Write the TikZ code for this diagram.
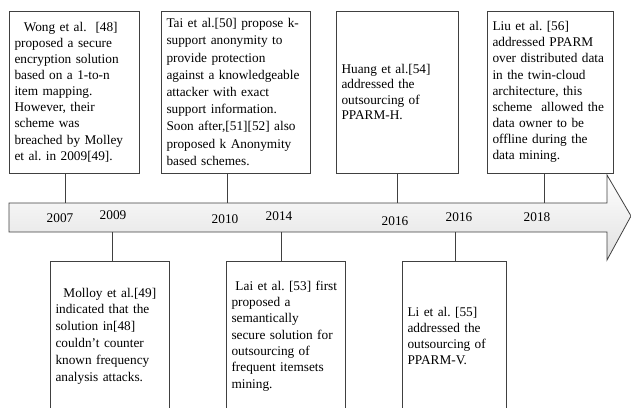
\documentclass[tikz,border=0pt]{standalone}
\usepackage{fontspec}
\setmainfont{Liberation Serif}
\frenchspacing
\begin{document}
\begin{tikzpicture}[x=1pt,y=-1pt,
  event/.style={draw=black!75, line width=0.9pt, fill=white, align=left,
    inner xsep=5.5pt, inner ysep=0pt, font=\fontsize{13.3}{16.1}\selectfont},
  year/.style={font=\fontsize{13.3}{16}\selectfont},
  link/.style={draw=black!75, line width=0.9pt}]
  \clip (0,0) rectangle (631,407);

  % timeline arrow
  \draw[draw=black!75, line width=0.8pt, top color=white, bottom color=black!12]
    (9,203) -- (607,203) -- (607,175) -- (631,216) -- (607,260) -- (607,232) -- (9,232) -- cycle;

  \node[year] (y1) at (60,218) {2007};
  \node[year] (y2) at (113,215) {2009};
  \node[year] (y3) at (225,219) {2010};
  \node[year] (y4) at (279,216) {2014};
  \node[year] (y5) at (395,221) {2016};
  \node[year] (y6) at (459,217) {2016};
  \node[year] (y7) at (537,217) {2018};

  % boxes above
  \node[event, text width=119pt, minimum height=162pt] (wong) at (74,92)
    {\hspace*{0.7em}Wong et al.\ \ [48]\\ proposed a secure\\ encryption solution\\ based on a 1-to-n\\ item mapping.\\ However, their\\ scheme was\\ breached by Molley\\ et al. in 2009[49].};
  \node[event, text width=138pt, minimum height=162pt, font=\fontsize{13.3}{17.2}\selectfont] (tai) at (235.5,92)
    {Tai et al.[50] propose k-\\ support anonymity to\\ provide protection\\ against a knowledgeable\\ attacker with exact\\ support information.\\ Soon after,[51][52] also\\ proposed k Anonymity\\ based schemes.};
  \node[event, text width=111pt, minimum height=162pt, font=\fontsize{13.3}{15.6}\selectfont] (huang) at (397,92)
    {Huang et al.[54]\\ addressed the\\ outsourcing of\\ PPARM-H.};
  \node[event, text width=115pt, minimum height=162pt] (liu) at (550,92)
    {Liu et al. [56]\\ addressed PPARM\\ over distributed data\\ in the twin-cloud\\ architecture, this\\ scheme\ \ allowed the\\ data owner to be\\ offline during the\\ data mining.};

  % boxes below
  \node[event, text width=108pt, minimum height=150pt, font=\fontsize{13.3}{16.8}\selectfont] (molloy) at (109.5,336)
    {\hspace*{0.6em}Molloy et al.[49]\\ indicated that the\\ solution in[48]\\ couldn’t counter\\ known frequency\\ analysis attacks.};
  \node[event, text width=108pt, minimum height=150pt, font=\fontsize{13.3}{16.3}\selectfont] (lai) at (285.5,336)
    {\hspace*{0.3em}Lai et al. [53] first\\ proposed a\\ semantically\\ secure solution for\\ outsourcing of\\ frequent itemsets\\ mining.};
  \node[event, text width=93pt, minimum height=150pt, font=\fontsize{13.3}{15.7}\selectfont] (li) at (454,336)
    {Li et al. [55]\\ addressed the\\ outsourcing of\\ PPARM-V.};

  % connectors
  \coordinate (t1) at (65,203);
  \coordinate (t2) at (227,203);
  \coordinate (t3) at (397,203);
  \coordinate (t4) at (544,203);
  \coordinate (b1) at (112,232);
  \coordinate (b2) at (281,232);
  \coordinate (b3) at (455,232);

  \draw[link] (wong.south -| t1) -- (t1);
  \draw[link] (tai.south -| t2) -- (t2);
  \draw[link] (huang.south -| t3) -- (t3);
  \draw[link] (liu.south -| t4) -- (t4);
  \draw[link] (b1) -- (b1 |- molloy.north);
  \draw[link] (b2) -- (b2 |- lai.north);
  \draw[link] (b3) -- (b3 |- li.north);
\end{tikzpicture}
\end{document}
